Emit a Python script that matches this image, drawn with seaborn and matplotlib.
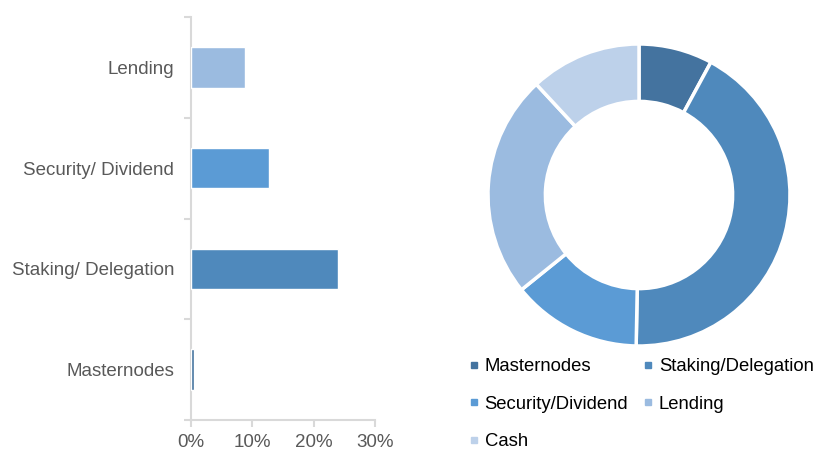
import matplotlib
matplotlib.use("Agg")
import matplotlib.pyplot as plt
from matplotlib.lines import Line2D
from matplotlib.ticker import FuncFormatter, FixedLocator
import seaborn as sns
import pandas as pd

# Bar chart data (top to bottom)
bar_categories = ["Lending", "Security/ Dividend", "Staking/ Delegation", "Masternodes"]
bar_values = [8.8, 12.7, 24.0, 0.45]
bar_colors = ["#9bbbe0", "#5b9bd5", "#4f89bc", "#44739f"]
x_ticks = [0, 10, 20, 30]

# Donut data (clockwise from top)
pie_labels = ["Masternodes", "Staking/Delegation", "Security/Dividend", "Lending", "Cash"]
pie_values = [7.9, 42.4, 13.9, 23.9, 11.9]
pie_colors = ["#44739f", "#4f89bc", "#5b9bd5", "#9bbbe0", "#bdd1ea"]

sns.set_theme(style="white")
plt.rcParams["font.family"] = ["Liberation Sans", "DejaVu Sans"]

W, H = 817, 450
fig = plt.figure(figsize=(W / 100, H / 100), dpi=100)

# ---- bar chart ----
ax = fig.add_axes([191 / W, 1 - 420 / H, 184 / W, 403 / H])
df = pd.DataFrame({"cat": bar_categories, "val": bar_values})
sns.barplot(data=df, y="cat", x="val", hue="cat", order=bar_categories,
            palette=dict(zip(bar_categories, bar_colors)), orient="h",
            width=0.4, legend=False, ax=ax, saturation=1)
ax.set_xlim(0, 30)
ax.set_ylim(3.5, -0.5)
ax.set_xlabel("")
ax.set_ylabel("")
ax.set_xticks(x_ticks)
ax.xaxis.set_major_formatter(FuncFormatter(lambda v, p: f"{int(v)}%"))
ax.yaxis.set_minor_locator(FixedLocator([-0.5, 0.5, 1.5, 2.5, 3.5]))
for s in ["top", "right"]:
    ax.spines[s].set_visible(False)
for s in ["left", "bottom"]:
    ax.spines[s].set_color("#d9d9d9")
    ax.spines[s].set_linewidth(1.5)
ax.tick_params(axis="y", which="major", length=0, pad=12, labelsize=13.5, labelcolor="#595959")
ax.tick_params(axis="y", which="minor", length=5, width=1.5, color="#d9d9d9", direction="out", left=True)
ax.tick_params(axis="x", which="major", length=5, width=1.5, color="#d9d9d9", direction="out",
               bottom=True, labelsize=13.5, labelcolor="#595959", pad=5)
ax.spines["left"].set_zorder(0.5)

# ---- donut ----
ax2 = fig.add_axes([488 / W, 1 - 346 / H, 302 / W, 302 / H])
ax2.pie(pie_values, colors=pie_colors, startangle=90, counterclock=False,
        radius=1.0, wedgeprops=dict(width=0.38, edgecolor="white", linewidth=2.5))
ax2.set_xlim(-1.0, 1.0)
ax2.set_ylim(-1.0, 1.0)
ax2.set_aspect("equal")

order = [0, 2, 4, 1, 3]
handles = [Line2D([], [], marker="s", linestyle="none", markersize=5,
                  markerfacecolor=pie_colors[i], markeredgecolor=pie_colors[i]) for i in order]
labels = [pie_labels[i] for i in order]
fig.legend(handles, labels, ncol=2, loc="upper left",
           bbox_to_anchor=(468 / W, 1 - 358 / H), frameon=False,
           fontsize=13.3, labelcolor="black", handlelength=0.6, handletextpad=0.3,
           columnspacing=0.75, labelspacing=1.12, borderpad=0, borderaxespad=0)

fig.savefig("out.png", dpi=100)
